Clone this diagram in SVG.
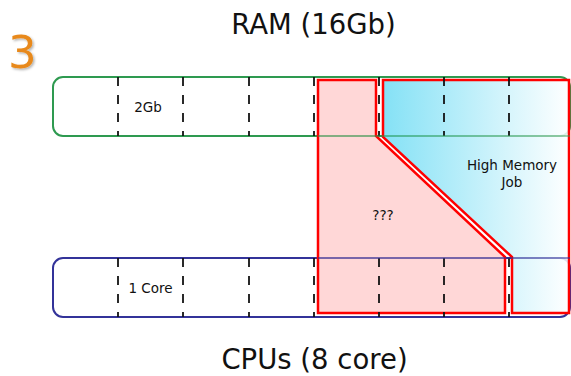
<svg xmlns="http://www.w3.org/2000/svg" width="571" height="376" viewBox="0 0 571 376">
<style>
text{font-family:"DejaVu Sans","Verdana",sans-serif;fill:#111}
.title{font-size:27.5px;text-anchor:middle}
.lbl{font-size:13.5px;text-anchor:middle}
.dash{stroke:#111;stroke-width:2;stroke-dasharray:9 9}
.job{stroke:#ff0000;stroke-width:2.5;stroke-linejoin:miter}
</style>
<defs>
<linearGradient id="hm" gradientUnits="userSpaceOnUse" x1="383" y1="0" x2="570" y2="0">
<stop offset="0" stop-color="#6fdcf4"/>
<stop offset="1" stop-color="#ffffff"/>
</linearGradient>
<filter id="sh" x="-20%" y="-20%" width="160%" height="160%">
<feDropShadow dx="1.5" dy="1.5" stdDeviation="1.2" flood-color="#000" flood-opacity="0.3"/>
</filter>
</defs>
<text class="title" x="313.5" y="34">RAM (16Gb)</text>
<text x="8" y="68" style="font-size:45px;fill:#e8891a" filter="url(#sh)">3</text>
<g id="ram">
<rect x="53" y="77" width="517" height="59" rx="10" fill="#fff" stroke="#2e9a50" stroke-width="2"/>
<text class="lbl" x="148" y="112">2Gb</text>
</g>
<g id="cpu">
<rect x="53" y="258" width="517" height="59" rx="10" fill="#fff" stroke="#333399" stroke-width="2"/>
<text class="lbl" x="150.5" y="293">1 Core</text>
</g>
<g id="unknown">
<path class="job" d="M318 80H376V136L505 257V313H318Z" fill="#ffcaca" fill-opacity="0.75"/>
<text class="lbl" x="383" y="220">???</text>
</g>
<g id="highmem">
<path class="job" d="M383 80H569V313H512V257L383 137Z" fill="url(#hm)" fill-opacity="0.85"/>
<text class="lbl" x="512" y="170">High Memory</text>
<text class="lbl" x="512" y="187">Job</text>
</g>
<g id="grid" opacity="0.9">
<path class="dash" d="M118 77V136M183 77V136M249 77V136M314 77V136M379 77V136M444 77V136M509 77V136M118 258V317M183 258V317M249 258V317M314 258V317M379 258V317M444 258V317M509 258V317"/>
<path d="M318 136H570" stroke="#2e9a50" stroke-width="2" opacity="0.5"/>
<path d="M318 258H570" stroke="#333399" stroke-width="2" opacity="0.6"/>
</g>
<g id="connectors"></g>
<text class="title" x="314.5" y="369">CPUs (8 core)</text>
</svg>
